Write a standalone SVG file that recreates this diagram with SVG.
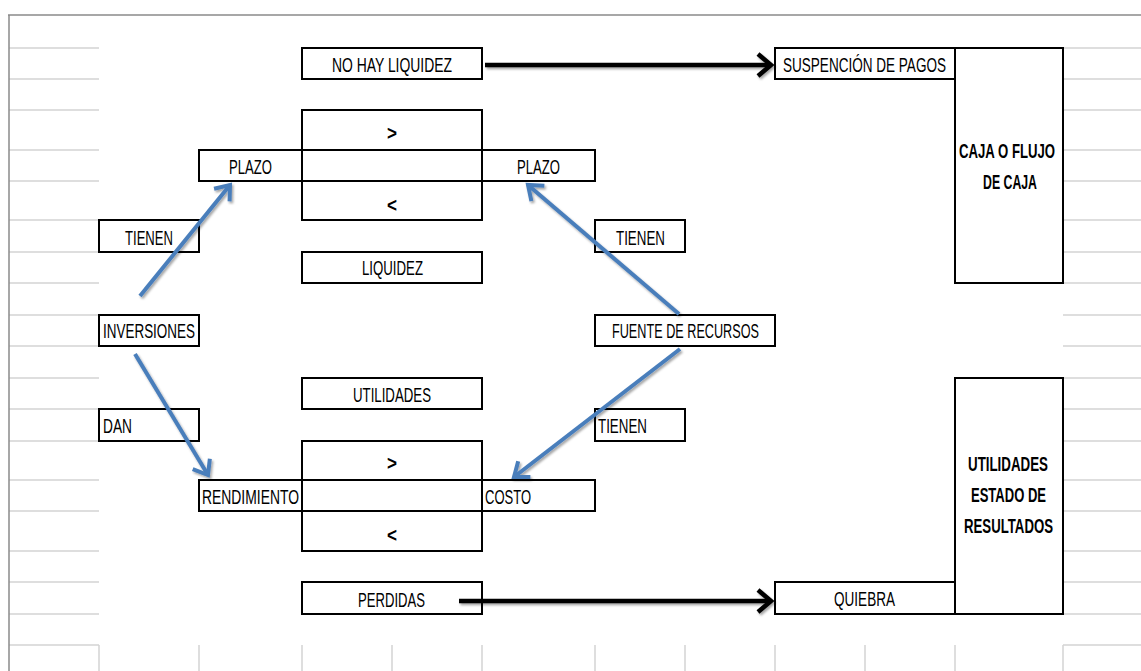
<svg xmlns="http://www.w3.org/2000/svg" width="1141" height="671" viewBox="0 0 1141 671">
<style>
.grid{stroke:#d4d4d4;stroke-width:1.5;fill:none}
.frame{stroke:#8a8a8a;stroke-width:1.5;fill:none}
.box{fill:#fff;stroke:#000;stroke-width:2}
.ln{stroke:#000;stroke-width:2;fill:none}
.t{font-family:"Liberation Sans",Arial,sans-serif;font-size:20px;fill:#000}
.b{font-weight:bold}
.blue{stroke:#4A7EBB;stroke-width:4;fill:none;marker-end:url(#ab)}
.blk{stroke:#000;stroke-width:4.5;fill:none;marker-end:url(#ak)}
</style>
<defs>
<filter id="sh" x="-20%" y="-20%" width="140%" height="140%">
<feDropShadow dx="1.5" dy="2" stdDeviation="1.2" flood-color="#000" flood-opacity="0.35"/>
</filter>
<marker id="ab" viewBox="-20 -15 25 30" refX="0" refY="0" markerWidth="25" markerHeight="30" markerUnits="userSpaceOnUse" orient="auto" overflow="visible">
<path d="M -13,-10 L 0,0 L -13,10" fill="none" stroke="#4A7EBB" stroke-width="4"/>
</marker>
<marker id="ak" viewBox="-20 -15 25 30" refX="0" refY="0" markerWidth="25" markerHeight="30" markerUnits="userSpaceOnUse" orient="auto" overflow="visible">
<path d="M -13,-11 L 0,0 L -13,11" fill="none" stroke="#000" stroke-width="4.5"/>
</marker>
</defs>
<rect width="1141" height="671" fill="#fff"/>
<g id="grid">
<path class="grid" d="M9 48H99M9 79H99M9 110H99M9 150H99M9 181H99M9 220H99M9 252H99M9 283H99M9 315H99M9 346H99M9 378H99M9 409H99M9 441H99M9 480H99M9 511H99M9 551H99M9 582H99M9 614H99M9 645H99"/>
<path class="grid" d="M1063 48H1141M1063 79H1141M1063 110H1141M1063 150H1141M1063 181H1141M1063 220H1141M1063 252H1141M1063 283H1141M1063 315H1141M1063 346H1141M1063 378H1141M1063 409H1141M1063 441H1141M1063 480H1141M1063 511H1141M1063 551H1141M1063 582H1141M1063 614H1141M1063 645H1141"/>
<path class="grid" d="M99 645V671M199 645V671M302 645V671M392 645V671M482 645V671M595 645V671M685 645V671M775 645V671M865 645V671M955 645V671M1063 645V671"/>
<path class="frame" d="M8 15H1141M9 15V671"/>
</g>
<g id="no-hay-liquidez"><rect class="box" x="302" y="48" width="180" height="31"/><text class="t" x="332" y="72" textLength="120" lengthAdjust="spacingAndGlyphs">NO HAY LIQUIDEZ</text></g>
<g id="comparacion-plazo"><rect class="box" x="302" y="110" width="180" height="110"/><path class="ln" d="M302 150H482M302 181H482"/><text class="t b" x="387" y="140" textLength="10" lengthAdjust="spacingAndGlyphs">&gt;</text><text class="t b" x="387" y="212" textLength="10" lengthAdjust="spacingAndGlyphs">&lt;</text></g>
<g id="plazo-izq"><rect class="box" x="199" y="150" width="103" height="31"/><text class="t" x="229" y="174" textLength="43" lengthAdjust="spacingAndGlyphs">PLAZO</text></g>
<g id="plazo-der"><rect class="box" x="482" y="150" width="113" height="31"/><text class="t" x="517" y="174" textLength="43" lengthAdjust="spacingAndGlyphs">PLAZO</text></g>
<g id="suspencion"><rect class="box" x="775" y="48" width="180" height="31"/><text class="t" x="783" y="72" textLength="163" lengthAdjust="spacingAndGlyphs">SUSPENCIÓN DE PAGOS</text></g>
<g id="caja"><rect class="box" x="955" y="48" width="108" height="235"/><text class="t b" x="959" y="158" textLength="96" lengthAdjust="spacingAndGlyphs">CAJA O FLUJO</text><text class="t b" x="983" y="189" textLength="54" lengthAdjust="spacingAndGlyphs">DE CAJA</text></g>
<g id="tienen-1"><rect class="box" x="99" y="220" width="100" height="32"/><text class="t" x="125" y="245" textLength="48" lengthAdjust="spacingAndGlyphs">TIENEN</text></g>
<g id="tienen-2"><rect class="box" x="595" y="220" width="90" height="32"/><text class="t" x="616" y="245" textLength="49" lengthAdjust="spacingAndGlyphs">TIENEN</text></g>
<g id="liquidez"><rect class="box" x="302" y="252" width="180" height="31"/><text class="t" x="362" y="275" textLength="61" lengthAdjust="spacingAndGlyphs">LIQUIDEZ</text></g>
<g id="inversiones"><rect class="box" x="99" y="315" width="100" height="31"/><text class="t" x="103" y="338" textLength="92" lengthAdjust="spacingAndGlyphs">INVERSIONES</text></g>
<g id="fuente"><rect class="box" x="595" y="315" width="180" height="31"/><text class="t" x="612" y="338" textLength="147" lengthAdjust="spacingAndGlyphs">FUENTE DE RECURSOS</text></g>
<g id="utilidades"><rect class="box" x="302" y="378" width="180" height="31"/><text class="t" x="353" y="402" textLength="78" lengthAdjust="spacingAndGlyphs">UTILIDADES</text></g>
<g id="dan"><rect class="box" x="99" y="409" width="100" height="32"/><text class="t" x="103" y="433" textLength="29" lengthAdjust="spacingAndGlyphs">DAN</text></g>
<g id="tienen-3"><rect class="box" x="595" y="409" width="90" height="32"/><text class="t" x="598" y="433" textLength="49" lengthAdjust="spacingAndGlyphs">TIENEN</text></g>
<g id="comparacion-costo"><rect class="box" x="302" y="441" width="180" height="110"/><path class="ln" d="M302 480H482M302 511H482"/><text class="t b" x="387" y="470" textLength="10" lengthAdjust="spacingAndGlyphs">&gt;</text><text class="t b" x="387" y="542" textLength="10" lengthAdjust="spacingAndGlyphs">&lt;</text></g>
<g id="rendimiento"><rect class="box" x="199" y="480" width="103" height="31"/><text class="t" x="202" y="504" textLength="97" lengthAdjust="spacingAndGlyphs">RENDIMIENTO</text></g>
<g id="costo"><rect class="box" x="482" y="480" width="113" height="31"/><text class="t" x="485" y="504" textLength="46" lengthAdjust="spacingAndGlyphs">COSTO</text></g>
<g id="perdidas"><rect class="box" x="302" y="582" width="180" height="32"/><text class="t" x="358" y="607" textLength="67" lengthAdjust="spacingAndGlyphs">PERDIDAS</text></g>
<g id="utilidades-estado"><rect class="box" x="955" y="378" width="108" height="236"/><text class="t b" x="968" y="471" textLength="80" lengthAdjust="spacingAndGlyphs">UTILIDADES</text><text class="t b" x="971" y="502" textLength="75" lengthAdjust="spacingAndGlyphs">ESTADO DE</text><text class="t b" x="964" y="533" textLength="89" lengthAdjust="spacingAndGlyphs">RESULTADOS</text></g>
<g id="quiebra"><rect class="box" x="775" y="582" width="180" height="32"/><text class="t" x="834" y="606" textLength="61" lengthAdjust="spacingAndGlyphs">QUIEBRA</text></g>
<g id="connectors" filter="url(#sh)">
<path class="blk" d="M485 65H771"/>
<path class="blk" d="M459 601H771"/>
<path class="blue" d="M140 296L230 185"/>
<path class="blue" d="M679 314L528 185"/>
<path class="blue" d="M680 349L514 477"/>
<path class="blue" d="M135 354L208 475"/>
</g>
</svg>
